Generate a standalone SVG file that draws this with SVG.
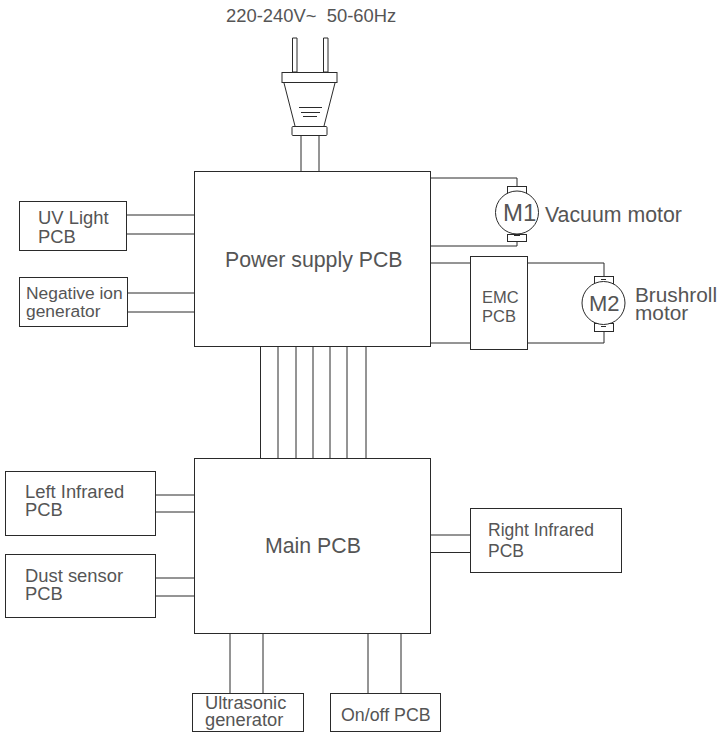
<svg xmlns="http://www.w3.org/2000/svg" width="723" height="733" viewBox="0 0 723 733">
<style>
rect,circle,path,line{fill:none;stroke:#2a2a2a;stroke-width:1}
rect,circle{fill:#fff}
text{font-family:"Liberation Sans",Arial,sans-serif;fill:#555;font-size:18.400px}
.b{font-size:21.300px}
.t{font-size:22px}
</style>
<g id="connectors">
<path d="M301 135V171M319 135V171"/>
<path d="M431 178H517V186M431 246H517V241"/>
<path d="M431 263H604V276M431 343H604V331"/>
<path d="M127 215H195M127 234H195M127 293H195M127 312H195"/>
<path d="M260.500 346V459M278 346V459M296 346V459M313 346V459M330 346V459M347 346V459M366 346V459"/>
<path d="M156 495H195M156 512H195M156 578H195M156 596H195"/>
<path d="M431 535H471M431 552.500H471"/>
<path d="M230 633V693M263 633V693M368 633V694M401 633V694"/>
</g>
<g id="plug">
<path d="M292.500 38H297V72H292.500ZM323.500 38H328V72H323.500Z"/>
<rect x="282" y="72.500" width="55" height="10"/>
<path d="M284 83L295 126M335 83L324 126"/>
<path d="M299 107.500H322M301 112.500H320M303 116.500H317"/>
<rect x="292" y="126.500" width="35" height="9" rx="1"/>
</g>
<g id="supply"><rect x="194.500" y="171.500" width="236" height="175"/><text x="225" y="267" class="b">Power supply PCB</text></g>
<g id="main"><rect x="194.500" y="458.500" width="236" height="175"/><text x="265" y="552.500" class="b">Main PCB</text></g>
<g id="uv"><rect x="19.500" y="201.500" width="107" height="49"/><text x="38" y="224">UV Light</text><text x="38" y="243">PCB</text></g>
<g id="ion"><rect x="19.500" y="277.500" width="108" height="49"/><text x="26" y="299" style="font-size:17.400px">Negative ion</text><text x="26" y="317" style="font-size:17.400px">generator</text></g>
<g id="left"><rect x="5.500" y="471.500" width="150" height="64"/><text x="25" y="498">Left Infrared</text><text x="25" y="516">PCB</text></g>
<g id="dust"><rect x="5.500" y="554.500" width="150" height="63"/><text x="25" y="582">Dust sensor</text><text x="25" y="600">PCB</text></g>
<g id="right"><rect x="470.500" y="508.500" width="151" height="64"/><text x="488" y="536" style="font-size:17.500px">Right Infrared</text><text x="488" y="556.500" style="font-size:17.500px">PCB</text></g>
<g id="ultra"><rect x="192.500" y="693.500" width="111" height="38"/><text x="205" y="709" style="font-size:18.300px">Ultrasonic</text><text x="205" y="726" style="font-size:18.300px">generator</text></g>
<g id="onoff"><rect x="330.500" y="693.500" width="110" height="38"/><text x="341" y="721" style="font-size:17.800px">On/off PCB</text></g>
<g id="emc"><rect x="470.500" y="256.500" width="57" height="93"/><text x="482" y="303" style="font-size:16.500px">EMC</text><text x="482" y="322" style="font-size:16.500px">PCB</text></g>
<g id="m1"><rect x="507.500" y="186.500" width="19" height="7"/><rect x="507.500" y="234.500" width="19" height="7"/><circle cx="517" cy="212.500" r="21.500"/><path d="M514 235.500H520"/><text x="503" y="220.500" style="font-size:24px">M1</text><text x="545" y="222" class="b">Vacuum motor</text></g>
<g id="m2"><rect x="594.500" y="276.500" width="19" height="7"/><rect x="594.500" y="323.500" width="19" height="8"/><circle cx="603.500" cy="303" r="21.500"/><path d="M601 279.500H606M601 326.500H606"/><text x="589" y="311" class="t">M2</text><text x="635" y="302" style="font-size:20.800px">Brushroll</text><text x="635" y="320" style="font-size:20.800px">motor</text></g>
<text x="226" y="22" xml:space="preserve" style="white-space:pre">220-240V~  50-60Hz</text>
</svg>
